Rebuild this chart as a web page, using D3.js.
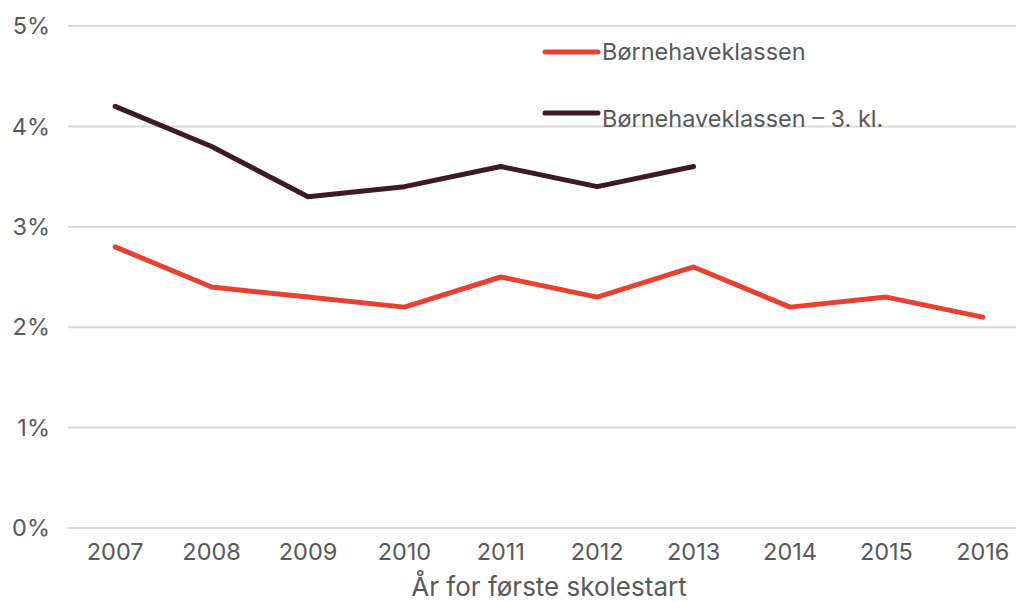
<!DOCTYPE html>
<html>
<head>
<meta charset="utf-8">
<script src="https://d3js.org/d3.v7.min.js"></script>
<style>
  html, body { margin: 0; padding: 0; background: #fff; }
  svg { display: block; font-family: Inter, "Noto Sans", sans-serif; }
  .grid line { stroke: #d9d9d9; stroke-width: 2px; }
  .tick-label { fill: #595959; font-size: 23.5px; }
  .axis-title { fill: #595959; font-size: 26px; }
  .legend-label { fill: #595959; font-size: 23.5px; }
  .line { fill: none; stroke-width: 5px; stroke-linejoin: round; stroke-linecap: round; }
</style>
</head>
<body>
<svg width="1016" height="602"></svg>
<script>
  const years = ['2007', '2008', '2009', '2010', '2011', '2012', '2013', '2014', '2015', '2016'];
  const bhk = [2.8, 2.4, 2.3, 2.2, 2.5, 2.3, 2.6, 2.2, 2.3, 2.1];
  const bhk3 = [4.2, 3.8, 3.3, 3.4, 3.6, 3.4, 3.6];
  const yTicks = [0, 1, 2, 3, 4, 5];
  const seriesNames = ['Børnehaveklassen', 'Børnehaveklassen – 3. kl.'];
  const colours = ['#e8412f', '#3d1a24'];

  let svg = d3.select('svg');

  let x = d3.scaleBand().domain(years).range([67, 1031]);
  let y = d3.scaleLinear().domain([0, 5]).range([528, 26]);

  // gridlines
  svg.append('g').classed('grid', true)
     .selectAll('line')
     .data(yTicks)
     .join('line')
     .attr('x1', 68).attr('x2', 1016)
     .attr('y1', d => y(d)).attr('y2', d => y(d));

  // y labels
  svg.append('g')
     .selectAll('text')
     .data(yTicks)
     .join('text')
     .classed('tick-label', true)
     .attr('x', 50)
     .attr('y', d => y(d))
     .attr('dy', '0.35em')
     .attr('text-anchor', 'end')
     .text(d => d + '%');

  // x labels
  svg.append('g')
     .selectAll('text')
     .data(years)
     .join('text')
     .classed('tick-label', true)
     .attr('x', d => x(d) + x.bandwidth() / 2)
     .attr('y', 560)
     .attr('text-anchor', 'middle')
     .text(d => d);

  svg.append('text')
     .classed('axis-title', true)
     .attr('x', 549)
     .attr('y', 596)
     .attr('text-anchor', 'middle')
     .text('År for første skolestart');

  let line = d3.line()
               .x((d, i) => x(years[i]) + x.bandwidth() / 2)
               .y(d => y(d));

  [bhk, bhk3].forEach((vals, i) => {
    svg.append('path')
       .datum(vals)
       .classed('line', true)
       .attr('stroke', colours[i])
       .attr('d', line);
  });

  // legend
  let legendY = [52, 113];
  seriesNames.forEach((name, i) => {
    svg.append('line')
       .attr('x1', 545).attr('x2', 598)
       .attr('y1', legendY[i]).attr('y2', legendY[i])
       .attr('stroke', colours[i])
       .attr('stroke-width', 5)
       .attr('stroke-linecap', 'round');
    svg.append('text')
       .classed('legend-label', true)
       .attr('x', 602)
       .attr('y', legendY[i] + (i === 0 ? 8 : 14))
       .text(name);
  });
</script>
</body>
</html>
